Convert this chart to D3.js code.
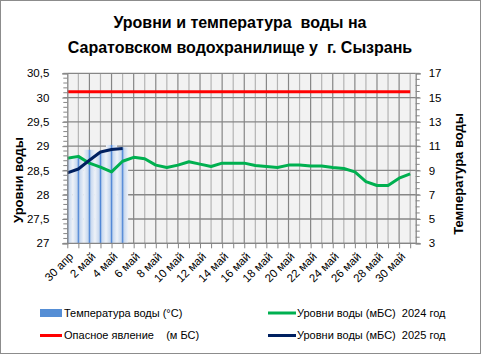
<!DOCTYPE html>
<html><head><meta charset="utf-8">
<script src="https://cdn.jsdelivr.net/npm/d3@7"></script>
<style>body{margin:0;background:#fff}svg{display:block}text{white-space:pre}</style>
</head><body>
<script>
// ---- data ----
const dates = ["30 апр","1 май","2 май","3 май","4 май","5 май","6 май","7 май","8 май","9 май","10 май","11 май","12 май","13 май","14 май","15 май","16 май","17 май","18 май","19 май","20 май","21 май","22 май","23 май","24 май","25 май","26 май","27 май","28 май","29 май","30 май","31 май"];
const level2024 = [28.75,28.79,28.65,28.57,28.47,28.69,28.77,28.74,28.61,28.56,28.61,28.68,28.63,28.58,28.65,28.65,28.65,28.60,28.58,28.56,28.61,28.61,28.59,28.59,28.56,28.54,28.47,28.27,28.19,28.19,28.34,28.43];
const level2025 = [28.45,28.53,28.71,28.88,28.93,28.95];
const temperature = [9.9,10.1,10.7,10.5,11.1,10.9];
const dangerLevel = 30.12;
const levelTicks = [27,27.5,28,28.5,29,29.5,30,30.5];
const tempTicks = [3,5,7,9,11,13,15,17];
const titleLines = ["Уровни и температура  воды на","Саратовском водохранилище у  г. Сызрань"];
const legendItems = [
  {label:"Температура воды (°С)", type:"bar", color:"#558ed5"},
  {label:"Уровни воды (мБС)  2024 год", type:"line", color:"#00b050"},
  {label:"Опасное явление    (м БС)", type:"line", color:"#ff0000"},
  {label:"Уровни воды (мБС)  2025 год", type:"line", color:"#002060"}
];

// ---- layout ----
const W = 481, H = 354;
const L = 67.3, R = 415.7, T = 73.3, B = 243.3;
const font = "'Liberation Sans', Arial, sans-serif";

const svg = d3.select("body").append("svg").attr("width", W).attr("height", H)
  .style("font-family", font);

svg.append("rect").attr("x",0.5).attr("y",0.5).attr("width",W-1).attr("height",H-1)
  .attr("fill","#fff").attr("stroke","#8c8c8c");

const x = d3.scaleLinear().domain([0, 31.5]).range([L, R]);
const yL = d3.scaleLinear().domain([27, 30.5]).range([B, T]);
const yT = d3.scaleLinear().domain([3, 17]).range([B, T]);
const step = x(1) - x(0);

const defs = svg.append("defs");
defs.append("clipPath").attr("id","plotclip").append("rect")
  .attr("x",L).attr("y",T-2).attr("width",R-L).attr("height",B-T+2);
const grad = defs.append("linearGradient").attr("id","bargrad").attr("x1","0").attr("x2","1").attr("y1","0").attr("y2","0");
[[0,"#eef2f8"],[0.36,"#c9d9ef"],[0.45,"#8fb2e2"],[0.5,"#4f86d6"],[0.56,"#8fb2e2"],[0.64,"#c9d9ef"],[1,"#eef2f8"]]
  .forEach(([o,c]) => grad.append("stop").attr("offset",o).attr("stop-color",c));

// plot background
svg.append("rect").attr("x",L).attr("y",T).attr("width",R-L).attr("height",B-T).attr("fill","#f2f2f2");

// vertical gridlines
const idx = d3.range(dates.length);
svg.append("g").selectAll("line").data(idx.filter(i => i > 0)).join("line")
  .attr("x1", i => x(i)).attr("x2", i => x(i)).attr("y1", T).attr("y2", B)
  .attr("stroke", i => i % 2 === 0 ? "#868686" : "#b4b4b4").attr("stroke-width", 1.2);

// horizontal gridlines
svg.append("g").selectAll("line").data(levelTicks).join("line")
  .attr("x1", L).attr("x2", R).attr("y1", d => yL(d)).attr("y2", d => yL(d))
  .attr("stroke", "#868686").attr("stroke-width", 1.3);

// bars
svg.append("g").attr("clip-path","url(#plotclip)").selectAll("rect").data(temperature).join("rect")
  .attr("x", (d,i) => x(i) - step/2).attr("width", step)
  .attr("y", d => yT(d)).attr("height", d => B - yT(d))
  .attr("fill", "url(#bargrad)");

// lines
const line = d3.line().x((d,i) => x(i)).y(d => yL(d));
svg.append("path").datum(dates.map(() => dangerLevel)).attr("d", line)
  .attr("fill","none").attr("stroke","#ff0000").attr("stroke-width",3);
svg.append("path").datum(level2024).attr("d", line)
  .attr("fill","none").attr("stroke","#00b050").attr("stroke-width",3).attr("stroke-linejoin","round");
svg.append("path").datum(level2025).attr("d", line)
  .attr("fill","none").attr("stroke","#002060").attr("stroke-width",3).attr("stroke-linejoin","round");

// axes
const axisColor = "#868686";
const leftAxis = svg.append("g").attr("transform",`translate(${L},0)`)
  .call(d3.axisLeft(yL).tickValues(levelTicks).tickSize(5).tickPadding(13)
    .tickFormat(d => d3.format("")(d).replace(".", ",")));
leftAxis.append("g").selectAll("line").data(d3.range(27, 30.51, 0.1)).join("line")
  .attr("x1",-4).attr("x2",0).attr("y1", d => yL(d)).attr("y2", d => yL(d)).attr("stroke",axisColor);
const rightAxis = svg.append("g").attr("transform",`translate(${R},0)`)
  .call(d3.axisRight(yT).tickValues(tempTicks).tickSize(5).tickPadding(8));
rightAxis.append("g").selectAll("line").data(d3.range(3, 17.01, 0.5)).join("line")
  .attr("x1",0).attr("x2",4).attr("y1", d => yT(d)).attr("y2", d => yT(d)).attr("stroke",axisColor);
const bottomAxis = svg.append("g").attr("transform",`translate(0,${B})`)
  .call(d3.axisBottom(x).tickValues(idx).tickSize(5).tickFormat(""));
bottomAxis.select(".domain").attr("d", `M${L},0H${R}`);

[leftAxis, rightAxis, bottomAxis].forEach(g => {
  g.selectAll(".domain").attr("stroke", axisColor).attr("stroke-width",1.3);
  g.selectAll(".tick line").attr("stroke", axisColor);
  g.selectAll("text").attr("fill","#000").style("font-family",font).style("font-size","11.5px");
});

// x labels
svg.append("g").selectAll("text").data(idx.filter(i => i % 2 === 0)).join("text")
  .attr("transform", i => `translate(${x(i)+4},${B+11}) rotate(-45)`)
  .attr("text-anchor","end").attr("dy","0.35em")
  .style("font-size","11.5px").text(i => dates[i]);

// axis titles
svg.append("text").attr("transform","translate(23,180) rotate(-90)")
  .attr("text-anchor","middle").style("font-weight","bold").style("font-size","13px").text("Уровни воды");
svg.append("text").attr("transform","translate(463,174) rotate(-90)")
  .attr("text-anchor","middle").style("font-weight","bold").style("font-size","13px").text("Температура воды");

// title
svg.append("g").selectAll("text").data(titleLines).join("text")
  .attr("x", 240).attr("y", (d,i) => 28 + i*24.5)
  .attr("text-anchor","middle").style("font-weight","bold").style("font-size","16px").text(d => d);

// legend
const legPos = [[40,313],[268,313],[40,335.5],[268,335.5]];
const leg = svg.append("g").selectAll("g").data(legendItems).join("g")
  .attr("transform", (d,i) => `translate(${legPos[i][0]},${legPos[i][1]})`);
leg.each(function(d, i){
  const g = d3.select(this);
  const wide = i % 2 === 1;
  if (d.type === "bar") {
    g.append("rect").attr("x",0).attr("y",-4).attr("width",22).attr("height",8).attr("fill",d.color);
  } else {
    g.append("line").attr("x1",0).attr("x2", wide ? 28 : 22).attr("y1",0).attr("y2",0).attr("stroke",d.color).attr("stroke-width",3);
  }
  g.append("text").attr("x", wide ? 29 : 24).attr("dy","0.35em")
    .style("font-size","11px").text(d.label);
});
</script>
</body></html>
